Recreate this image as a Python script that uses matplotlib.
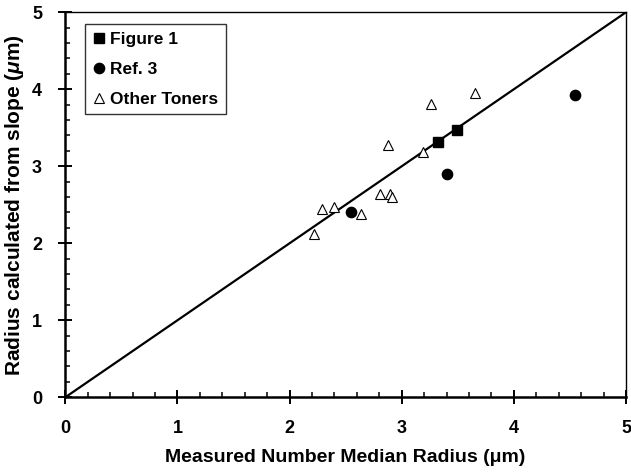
import matplotlib
matplotlib.use("Agg")
import matplotlib.pyplot as plt
from matplotlib.ticker import MultipleLocator

plt.rcParams['font.family'] = ['Liberation Sans', 'DejaVu Sans']
plt.rcParams['font.weight'] = 'bold'
plt.rcParams['mathtext.fontset'] = 'custom'
plt.rcParams['mathtext.it'] = 'Liberation Sans:italic:bold'
plt.rcParams['mathtext.rm'] = 'Liberation Sans:bold'

fig1_x = [3.32, 3.49]
fig1_y = [3.31, 3.47]
ref3_x = [2.55, 3.40, 4.55]
ref3_y = [2.41, 2.90, 3.93]
other_x = [3.65, 3.26, 2.88, 3.19, 2.81, 2.90, 2.91, 2.29, 2.40, 2.64, 2.22]
other_y = [3.95, 3.81, 3.27, 3.19, 2.64, 2.64, 2.60, 2.44, 2.47, 2.38, 2.12]
line_x = [0, 5]
line_y = [0, 5]

fig = plt.figure(figsize=(6.31, 4.72), dpi=100)
ax = fig.add_axes([0.1035, 0.1583, 0.8885, 0.8157])

ax.plot(line_x, line_y, color='black', lw=1.6, zorder=1)
ax.plot(fig1_x, fig1_y, 's', color='black', ms=7.9, ls='none', label='Figure 1', zorder=3)
ax.plot(ref3_x, ref3_y, 'o', color='black', ms=7.4, ls='none', label='Ref. 3', zorder=3)
ax.plot(other_x, other_y, '^', mfc='white', mec='black', mew=0.8, ms=7.5, ls='none',
        label='Other Toners', zorder=2)

ax.set_xlim(0, 5)
ax.set_ylim(0, 5)
ax.xaxis.set_major_locator(MultipleLocator(1))
ax.yaxis.set_major_locator(MultipleLocator(1))
ax.xaxis.set_minor_locator(MultipleLocator(0.2))
ax.yaxis.set_minor_locator(MultipleLocator(0.2))
ax.tick_params(which='major', direction='inout', length=9.4, width=1.4, labelsize=13, pad=12)
ax.tick_params(which='minor', direction='in', length=3.6, width=1.1)
for lab in ax.get_xticklabels() + ax.get_yticklabels():
    lab.set_fontweight('bold')

ax.spines['left'].set_linewidth(1.8)
ax.spines['bottom'].set_linewidth(1.8)
ax.spines['top'].set_linewidth(1.0)
ax.spines['right'].set_linewidth(1.0)

ax.set_xlabel('Measured Number Median Radius (μm)', fontsize=14, fontweight='bold', labelpad=8)
ax.set_ylabel('Radius calculated from slope ($\\mu$m)', fontsize=15, fontweight='bold', labelpad=4)

leg = ax.legend(loc='upper left', bbox_to_anchor=(0.035, 0.97), fancybox=False, frameon=True,
                edgecolor='black', handlelength=0.7, handletextpad=0.3, markerscale=1.0,
                borderpad=0.45, borderaxespad=0.0, labelspacing=0.85,
                prop={'weight': 'bold', 'size': 12.5})
leg.get_frame().set_linewidth(1.0)

fig.savefig('out.png', dpi=100)
